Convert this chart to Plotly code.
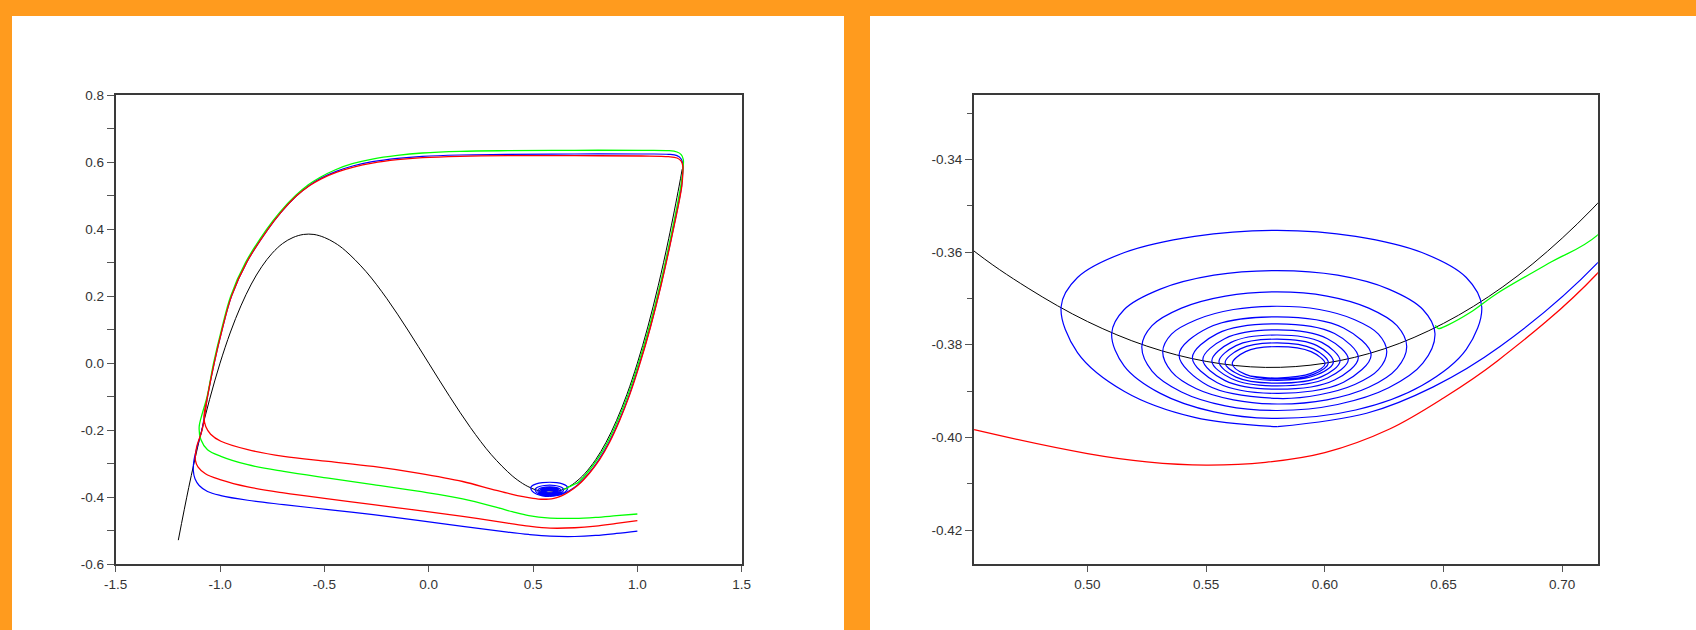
import plotly.graph_objects as go

# ---------------- data ----------------
BLACK_X = [-1.2, -1.15, -1.1, -1.05, -1.0, -0.95, -0.9, -0.85, -0.8, -0.75, -0.7, -0.65, -0.6, -0.55,
           -0.5, -0.45, -0.4, -0.3, -0.2, -0.1, 0.0, 0.1, 0.2, 0.3, 0.4, 0.45, 0.475, 0.5, 0.525, 0.55,
           0.575, 0.6, 0.625, 0.65, 0.675, 0.7, 0.725, 0.75, 0.8, 0.85, 0.9, 0.95, 1.0, 1.05, 1.1, 1.15,
           1.2, 1.215]
BLACK_Y = [-0.528, -0.371, -0.231, -0.108, 0.0, 0.093, 0.171, 0.236, 0.288, 0.328, 0.357, 0.375, 0.384, 0.384,
           0.375, 0.359, 0.336, 0.273, 0.192, 0.099, 0.0, -0.099, -0.192, -0.273, -0.336, -0.3589, -0.3678, -0.375,
           -0.3803, -0.3836, -0.3849, -0.384, -0.3809, -0.3754, -0.3675, -0.357, -0.3439, -0.3281, -0.288, -0.236,
           -0.171, -0.093, 0.0, 0.108, 0.231, 0.371, 0.528, 0.579]

# blue trajectory: lower path, rising left branch, top, right branch, spiral into focus
BLUE_LOW_X = [1.0, 0.9, 0.8, 0.7, 0.582, 0.48, 0.378, 0.163, -0.052, -0.266, -0.481, -0.695, -0.867,
              -0.996, -1.06, -1.10, -1.12, -1.128]
BLUE_LOW_Y = [-0.501, -0.508, -0.514, -0.517, -0.516, -0.511, -0.504, -0.487, -0.469, -0.452, -0.437,
              -0.422, -0.409, -0.395, -0.383, -0.365, -0.345, -0.32]
BLUE_UP_X = [-1.125, -1.11, -1.087, -1.06, -1.028, -0.99, -0.945, -0.873, -0.77, -0.708, -0.632, -0.571,
             -0.516, -0.44, -0.36, -0.27, -0.15, -0.03, 0.15, 0.38, 0.70, 1.02, 1.15, 1.19, 1.21, 1.218, 1.218]
BLUE_UP_Y = [-0.29, -0.25, -0.2, -0.1, 0.0, 0.1, 0.2, 0.3, 0.4, 0.45, 0.5, 0.531, 0.552, 0.573, 0.589,
             0.601, 0.611, 0.617, 0.621, 0.623, 0.624, 0.624, 0.623, 0.619, 0.609, 0.593, 0.575]
BLUE_DOWN_X = [1.212, 1.162, 1.112, 1.062, 1.011, 0.962, 0.913, 0.864, 0.815, 0.768, 0.715, 0.6738,
               0.6457, 0.6176, 0.580]
BLUE_DOWN_Y = [0.528, 0.371, 0.231, 0.108, 0.0, -0.093, -0.171, -0.236, -0.288, -0.328, -0.3623, -0.3804,
               -0.3891, -0.3948, -0.3977]
SPIRAL_X = [0.580, 0.5451, 0.5156, 0.4958, 0.4889, 0.4958, 0.5156, 0.5451, 0.580, 0.6130, 0.6409, 0.6596,
            0.6661, 0.6596, 0.6409, 0.6130,
            0.580, 0.5533, 0.5307, 0.5155, 0.5102, 0.5155, 0.5307, 0.5533, 0.580, 0.6054, 0.6269, 0.6413,
            0.6464, 0.6413, 0.6269, 0.6054,
            0.580, 0.5581, 0.5396, 0.5272, 0.5229, 0.5272, 0.5396, 0.5581, 0.580, 0.6009, 0.6185, 0.6304,
            0.6345, 0.6304, 0.6185, 0.6009,
            0.580, 0.5615, 0.5459, 0.5354, 0.5317, 0.5354, 0.5459, 0.5615, 0.580, 0.5977, 0.6126, 0.6226,
            0.6261, 0.6226, 0.6126, 0.5977,
            0.580, 0.5507, 0.5386, 0.5507, 0.580, 0.6079, 0.6195, 0.6079,
            0.580, 0.5547, 0.5442, 0.5547, 0.580, 0.6041, 0.6141, 0.6041,
            0.580, 0.5578, 0.5486, 0.5578, 0.580, 0.6011, 0.6099, 0.6011,
            0.580, 0.5605, 0.5524, 0.5605, 0.580, 0.5987, 0.6064, 0.5987,
            0.580, 0.5626, 0.5554, 0.5626, 0.580, 0.5967, 0.6036, 0.5967,
            0.580, 0.5644, 0.5580, 0.5644, 0.580, 0.5952, 0.6015, 0.5952,
            0.580, 0.5666, 0.5610, 0.5666, 0.580, 0.5942, 0.6001, 0.5942, 0.580, 0.5690]
SPIRAL_Y = [-0.3977, -0.3957, -0.3901, -0.3817, -0.3718, -0.3655, -0.3601, -0.3566, -0.3553, -0.3566,
            -0.3601, -0.3655, -0.3718, -0.3810, -0.3888, -0.3941,
            -0.3959, -0.3945, -0.3905, -0.3846, -0.3776, -0.3724, -0.3680, -0.3650, -0.3640, -0.3650,
            -0.3680, -0.3724, -0.3776, -0.3840, -0.3893, -0.3929,
            -0.3942, -0.3932, -0.3902, -0.3857, -0.3804, -0.3759, -0.3721, -0.3695, -0.3686, -0.3695,
            -0.3721, -0.3759, -0.3804, -0.3851, -0.3892, -0.3919,
            -0.3928, -0.3919, -0.3895, -0.3858, -0.3815, -0.3777, -0.3746, -0.3724, -0.3717, -0.3724,
            -0.3746, -0.3777, -0.3815, -0.3854, -0.3886, -0.3908,
            -0.3916, -0.3888, -0.3822, -0.3764, -0.3740, -0.3764, -0.3822, -0.3881,
            -0.3905, -0.3882, -0.3828, -0.3776, -0.3755, -0.3776, -0.3828, -0.3876,
            -0.3896, -0.3877, -0.3832, -0.3787, -0.3768, -0.3787, -0.3832, -0.3872,
            -0.3889, -0.3873, -0.3835, -0.3795, -0.3779, -0.3795, -0.3835, -0.3869,
            -0.3883, -0.3870, -0.3837, -0.3802, -0.3788, -0.3802, -0.3837, -0.3865,
            -0.3877, -0.3866, -0.3839, -0.3809, -0.3796, -0.3809, -0.3839, -0.3864,
            -0.3874, -0.3864, -0.3841, -0.3815, -0.3804, -0.3815, -0.3841, -0.3862, -0.3872, -0.3868]

# red trajectory: lower path, loop, passes under the focus, second loop
RED_LOW_X = [1.0, 0.9, 0.8, 0.7, 0.582, 0.48, 0.378, 0.163, -0.052, -0.266, -0.481, -0.695, -0.867,
             -0.996, -1.07, -1.105, -1.118]
RED_LOW_Y = [-0.470, -0.478, -0.486, -0.491, -0.492, -0.486, -0.477, -0.457, -0.439, -0.422, -0.405,
             -0.387, -0.369, -0.348, -0.33, -0.31, -0.29]
RED_UP_X = [-1.112, -1.086, -1.06, -1.028, -0.99, -0.945, -0.873, -0.77, -0.708, -0.632, -0.570, -0.515,
            -0.44, -0.36, -0.27, -0.15, -0.03, 0.15, 0.38, 0.70, 1.02, 1.15, 1.19, 1.21, 1.218, 1.218]
RED_UP_Y = [-0.25, -0.2, -0.1, 0.0, 0.1, 0.2, 0.3, 0.4, 0.45, 0.5, 0.53, 0.55, 0.57, 0.585, 0.597,
            0.607, 0.613, 0.617, 0.619, 0.619, 0.618, 0.616, 0.612, 0.603, 0.588, 0.575]
RED_DOWN_X = [1.213, 1.163, 1.113, 1.063, 1.013, 0.964, 0.915, 0.867, 0.819, 0.772, 0.715, 0.6727, 0.65,
              0.6273, 0.60, 0.575, 0.55, 0.525, 0.50, 0.4527, 0.40]
RED_DOWN_Y = [0.528, 0.371, 0.231, 0.108, 0.0, -0.093, -0.171, -0.236, -0.288, -0.327, -0.3645, -0.3835,
              -0.3915, -0.3982, -0.4033, -0.4054, -0.4060, -0.4053, -0.4035, -0.3984, -0.3915]
RED_MID_X = [0.30, 0.163, -0.052, -0.266, -0.481, -0.695, -0.867, -0.996, -1.045, -1.068, -1.077]
RED_MID_Y = [-0.3755, -0.353, -0.328, -0.308, -0.293, -0.278, -0.258, -0.233, -0.212, -0.19, -0.16]
RED_UP2_X = [-1.06, -1.028, -0.99, -0.945, -0.873, -0.77, -0.708, -0.632, -0.570, -0.515, -0.44, -0.36,
             -0.27, -0.15, -0.03, 0.15, 0.38, 0.70, 1.02, 1.15, 1.19, 1.21, 1.218, 1.218, 1.213, 1.163,
             1.113, 1.063, 1.013]
RED_UP2_Y = [-0.1, 0.0, 0.1, 0.2, 0.3, 0.4, 0.45, 0.5, 0.53, 0.55, 0.57, 0.585, 0.597, 0.607, 0.613,
             0.617, 0.619, 0.619, 0.618, 0.616, 0.612, 0.603, 0.588, 0.575, 0.528, 0.371, 0.231, 0.108, 0.0]

# green trajectory
GREEN_LOW_X = [1.0, 0.9, 0.8, 0.7, 0.582, 0.48, 0.40, 0.335, 0.163, -0.052, -0.266, -0.481, -0.695,
               -0.867, -0.996, -1.06, -1.092, -1.10]
GREEN_LOW_Y = [-0.450, -0.455, -0.460, -0.463, -0.462, -0.455, -0.443, -0.432, -0.405, -0.382, -0.362,
               -0.343, -0.323, -0.303, -0.278, -0.258, -0.228, -0.19]
GREEN_UP_X = [-1.085, -1.062, -1.031, -0.993, -0.949, -0.878, -0.776, -0.714, -0.638, -0.577, -0.522,
              -0.447, -0.366, -0.27, -0.15, -0.03, 0.15, 0.38, 0.70, 1.02, 1.15, 1.19, 1.21, 1.22, 1.22]
GREEN_UP_Y = [-0.15, -0.1, 0.0, 0.1, 0.2, 0.3, 0.4, 0.45, 0.5, 0.532, 0.554, 0.577, 0.595, 0.609, 0.620,
              0.627, 0.632, 0.634, 0.635, 0.635, 0.634, 0.630, 0.622, 0.608, 0.59]
GREEN_DOWN_X = [1.208, 1.158, 1.108, 1.057, 1.006, 0.956, 0.906, 0.857, 0.807, 0.758, 0.715, 0.6955,
                0.6727, 0.6614, 0.652, 0.6477, 0.6466]
GREEN_DOWN_Y = [0.528, 0.371, 0.231, 0.108, 0.0, -0.093, -0.171, -0.236, -0.288, -0.3285, -0.3563,
                -0.3621, -0.3689, -0.3730, -0.3757, -0.3765, -0.3758]

LEFT_XTICKS = [-1.5, -1.0, -0.5, 0.0, 0.5, 1.0, 1.5]
LEFT_XTEXT = ["-1.5", "-1.0", "-0.5", "0.0", "0.5", "1.0", "1.5"]
LEFT_YTICKS = [-0.6, -0.4, -0.2, 0.0, 0.2, 0.4, 0.6, 0.8]
LEFT_YTEXT = ["-0.6", "-0.4", "-0.2", "0.0", "0.2", "0.4", "0.6", "0.8"]
RIGHT_XTICKS = [0.50, 0.55, 0.60, 0.65, 0.70]
RIGHT_XTEXT = ["0.50", "0.55", "0.60", "0.65", "0.70"]
RIGHT_YTICKS = [-0.42, -0.40, -0.38, -0.36, -0.34]
RIGHT_YTEXT = ["-0.42", "-0.40", "-0.38", "-0.36", "-0.34"]

# ---------------- figure ----------------
W, H = 1696, 630
ORANGE = "#FF9B1E"

blue_x = BLUE_LOW_X + BLUE_UP_X + BLUE_DOWN_X
blue_y = BLUE_LOW_Y + BLUE_UP_Y + BLUE_DOWN_Y
red_x = RED_LOW_X + RED_UP_X + RED_DOWN_X + RED_MID_X + RED_UP2_X
red_y = RED_LOW_Y + RED_UP_Y + RED_DOWN_Y + RED_MID_Y + RED_UP2_Y
green_x = GREEN_LOW_X + GREEN_UP_X + GREEN_DOWN_X
green_y = GREEN_LOW_Y + GREEN_UP_Y + GREEN_DOWN_Y

series = [
    (BLACK_X, BLACK_Y, "#000000", 1.0),
    (blue_x, blue_y, "#0000FF", 1.2),
    (SPIRAL_X, SPIRAL_Y, "#0000FF", 1.2),
    (green_x, green_y, "#00FF00", 1.3),
    (red_x, red_y, "#FF0000", 1.3),
]

fig = go.Figure()
for xa, ya in (("x", "y"), ("x2", "y2")):
    for xs, ys, col, lw in series:
        fig.add_trace(go.Scatter(
            x=xs, y=ys, mode="lines", xaxis=xa, yaxis=ya,
            line=dict(color=col, width=lw, shape="spline", smoothing=1.0),
            showlegend=False, hoverinfo="skip"))

FONT = dict(family="Liberation Sans, Arial, sans-serif", size=13.5, color="#333333")
common = dict(showline=True, mirror=True, linecolor="#3a3a3a", linewidth=2,
              ticks="outside", tickcolor="#555555", tickwidth=1, showgrid=False,
              zeroline=False, tickfont=FONT, fixedrange=True, automargin=False)

ydom = [1 - 564.3 / H, 1 - 95 / H]
fig.update_layout(
    template="none",
    width=W, height=H, autosize=False,
    margin=dict(l=0, r=0, t=0, b=0, pad=0, autoexpand=False),
    paper_bgcolor=ORANGE, plot_bgcolor="#FFFFFF",
    xaxis=dict(domain=[115.7 / W, 741.7 / W], range=[-1.5, 1.5], tickvals=LEFT_XTICKS,
               ticktext=LEFT_XTEXT, ticklen=6, anchor="y", **common),
    yaxis=dict(domain=ydom, range=[-0.6, 0.8], tickvals=LEFT_YTICKS, ticktext=LEFT_YTEXT,
               ticklen=7, anchor="x",
               minor=dict(dtick=0.1, tick0=0.1, ticks="outside", ticklen=7, tickcolor="#555555"),
               **common),
    xaxis2=dict(domain=[974 / W, 1597.8 / W], range=[0.4522, 0.715], tickvals=RIGHT_XTICKS,
                ticktext=RIGHT_XTEXT, ticklen=6, anchor="y2", **common),
    yaxis2=dict(domain=ydom, range=[-0.4274, -0.3261], tickvals=RIGHT_YTICKS, ticktext=RIGHT_YTEXT,
                ticklen=7, anchor="x2",
                minor=dict(dtick=0.01, tick0=-0.33, ticks="outside", ticklen=5, tickcolor="#555555"),
                **common),
    shapes=[
        dict(type="rect", xref="paper", yref="paper", x0=12 / W, x1=844 / W, y0=0, y1=1 - 16 / H,
             fillcolor="#FFFFFF", line=dict(width=0), layer="below"),
        dict(type="rect", xref="paper", yref="paper", x0=870 / W, x1=1.0, y0=0, y1=1 - 16 / H,
             fillcolor="#FFFFFF", line=dict(width=0), layer="below"),
    ],
)

fig.write_html("out.html", config={"responsive": False, "displayModeBar": False},
               post_script="document.body.style.margin='0px';document.body.style.overflow='hidden';")
